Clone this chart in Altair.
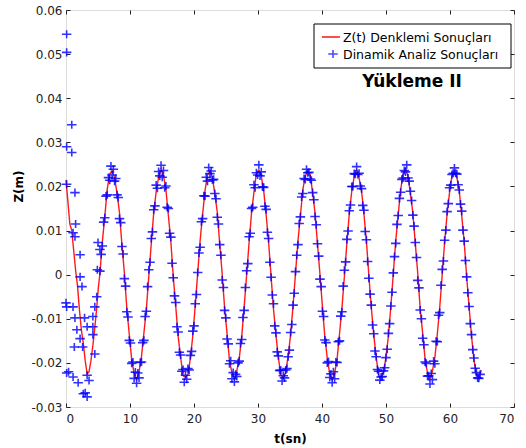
import altair as alt
import pandas as pd

# ---------------- data (values in mm, converted to m below) ----------------
period = 7.64          # s, steady oscillation period
t_start = 5.3          # s, first upward zero crossing of the steady part

x_ticks = [0, 10, 20, 30, 40, 50, 60, 70]
y_ticks = [-0.03, -0.02, -0.01, 0.0, 0.01, 0.02, 0.03, 0.04, 0.05, 0.06]

series_names = ["Z(t) Denklemi Sonuçları", "Dinamik Analiz Sonuçları"]
load_case = "Yükleme II"

# Z(t) equation curve: early transient
red_t_early = [0.0, 0.3, 0.6, 0.9, 1.2, 1.5, 1.8, 2.1, 2.4, 2.7, 3.0, 3.3,
               3.6, 3.9, 4.2, 4.5, 4.8, 5.05]
red_z_early_mm = [21.5, 16.5, 11.5, 10.0, 5.5, 1.0, -2.5, -8.0, -12.5, -15.5,
                  -19.5, -22.5, -22.0, -19.5, -16.0, -12.0, -7.5, -3.0]

# Z(t) equation curve: steady part, 20 samples per period
red_z_mm = [
    0.2, 7.5, 13.2, 19.4, 22.8, 23.6, 21.9, 18.5, 14.1, 6.8, 0.4, -7.6, -13.5, -19.3, -22.4, -23.8, -22.0, -18.6, -13.2, -7.8,
    -0.3, 7.0, 14.0, 18.8, 22.1, 23.9, 22.5, 19.2, 13.4, 7.6, -0.5, -7.1, -14.0, -18.6, -22.9, -23.2, -22.6, -19.0, -13.8, -6.9,
    0.4, 7.8, 13.6, 19.1, 22.6, 23.4, 22.0, 18.3, 14.2, 7.0, 0.2, -7.5, -13.3, -19.5, -22.2, -23.7, -21.8, -18.9, -14.1, -7.3,
    -0.2, 7.2, 13.9, 18.7, 23.0, 23.8, 22.3, 19.0, 13.5, 7.4, -0.3, -7.8, -13.7, -18.8, -22.7, -23.4, -22.1, -18.4, -13.6, -7.0,
    0.3, 7.6, 13.3, 19.3, 22.4, 23.5, 22.7, 18.6, 13.9, 6.9, 0.1, -7.2, -14.1, -19.0, -22.5, -23.9, -22.4, -19.2, -13.4, -7.6,
    -0.4, 7.1, 13.8, 18.9, 22.2, 23.7, 21.9, 19.1, 13.7, 7.7, -0.2, -7.4, -13.6, -18.7, -22.8, -23.3, -22.2, -18.7, -13.9, -7.1,
    0.2, 7.7, 13.5, 19.2, 22.9, 24.1, 22.4, 18.4, 14.0, 7.1, 0.3, -7.7, -13.2, -19.1, -22.3, -23.6, -21.9, -18.8, -13.5, -7.4,
    -0.1, 7.4, 13.7, 18.6, 22.5, 23.4, 22.1, 18.9, 13.3, 7.5, -0.4, -7.3, -13.9, -19.4, -22.6, -23.5, -21.6,
]

# Dynamic analysis results: early transient (scattered)
blue_t_early = [0.1, 0.1, 0.9, 0.1, 0.9, 0.1, 1.4, 1.1, 1.4, 1.5, 2.2, 2.2,
                2.5, 0.0, 0.1, 1.1, 1.4, 2.9, 3.3, 4.8, 4.5, 4.2, 4.2, 4.2,
                2.2, 2.6, 1.3, 4.5, 0.1, 1.1, 1.9, 3.3, 3.6, 2.7, 3.3, 3.0,
                5.0, 4.9, 5.3, 0.4, 1.7]
blue_z_early_mm = [54.5, 50.4, 34.0, 29.0, 27.7, 20.5, 18.6, 9.5, 8.6, 11.5, 4.5, -0.5,
                   -2.7, -6.4, -7.3, -7.3, -9.8, -9.8, -11.8, -5.0, -7.3, -9.5, -11.8, -13.6,
                   -14.5, -16.4, -16.4, -18.0, -22.3, -23.2, -24.5, -22.8, -24.0, -27.0, -27.7, -26.8,
                   7.3, 1.1, 5.7, -22.0, -12.5]

# Dynamic analysis results: steady part, 40 samples per period
blue_z_mm = [
    0.8, 4.6, 6.5, 11.9, 12.9, 17.8, 18.1, 22.0, 21.4, 24.6, 22.6, 23.9, 21.2, 21.8, 18.1, 17.5, 12.7, 11.8, 6.4, 4.7,
    -0.9, -2.6, -8.4, -9.6, -14.9, -15.5, -20.1, -19.8, -23.5, -22.1, -24.6, -22.3, -23.4, -19.9, -19.8, -15.4, -14.9, -9.5, -8.3, -2.7,
    1.1, 2.8, 8.2, 9.7, 14.7, 15.6, 20.3, 19.6, 23.4, 22.4, 24.8, 22.1, 23.6, 19.7, 20.1, 15.3, 15.0, 9.4, 8.5, 2.6,
    -0.7, -4.8, -6.3, -11.8, -13.0, -17.6, -18.2, -21.9, -21.5, -24.4, -22.8, -23.7, -21.3, -21.6, -18.3, -17.4, -12.8, -11.6, -6.6, -4.5,
    0.5, 4.9, 6.2, 12.0, 12.7, 17.9, 17.8, 22.1, 21.2, 24.3, 22.9, 23.5, 21.5, 21.6, 18.4, 17.2, 13.0, 11.5, 6.8, 4.4,
    -1.2, -2.9, -8.1, -9.8, -14.6, -15.7, -20.2, -19.5, -23.6, -22.2, -24.3, -22.6, -23.1, -20.0, -19.6, -15.6, -14.7, -9.7, -8.1, -2.9,
    0.9, 2.5, 8.6, 9.4, 15.0, 15.3, 20.4, 19.7, 23.1, 22.6, 24.9, 22.4, 23.3, 19.9, 19.8, 15.5, 14.8, 9.6, 8.2, 2.8,
    -0.6, -4.6, -6.6, -11.6, -13.2, -17.5, -18.4, -21.7, -21.7, -24.1, -22.9, -23.4, -21.6, -21.3, -18.6, -17.1, -13.1, -11.3, -6.9, -4.2,
    0.7, 4.4, 6.8, 11.6, 13.1, 17.6, 18.4, 21.8, 21.6, 23.9, 23.1, 23.2, 21.7, 21.4, 18.6, 17.0, 13.2, 11.3, 7.0, 4.2,
    -1.0, -2.7, -8.3, -9.5, -14.8, -15.4, -20.0, -19.7, -23.3, -22.5, -24.5, -22.0, -23.6, -19.8, -19.9, -15.2, -15.0, -9.4, -8.4, -2.6,
    1.0, 2.9, 8.0, 9.9, 14.5, 15.8, 20.0, 20.0, 22.9, 22.8, 24.5, 22.7, 23.0, 20.1, 19.5, 15.7, 14.6, 9.8, 7.9, 3.0,
    -0.8, -4.4, -6.9, -11.4, -13.4, -17.3, -18.6, -21.5, -21.9, -23.9, -23.2, -23.1, -21.8, -21.1, -18.8, -16.9, -13.3, -11.1, -7.1, -4.0,
    0.4, 4.1, 7.1, 11.4, 13.4, 17.3, 18.7, 21.6, 21.9, 23.6, 23.3, 24.9, 21.9, 21.2, 18.9, 16.8, 13.5, 11.0, 7.3, 3.9,
    -1.3, -3.0, -8.0, -10.0, -14.4, -15.9, -19.8, -20.1, -23.0, -22.9, -24.8, -22.4, -23.8, -19.6, -20.2, -15.1, -15.2, -9.2, -8.6, -2.4,
    1.2, 3.1, 7.8, 10.1, 14.3, 16.1, 19.7, 20.3, 22.7, 23.0, 24.2, 23.0, 22.8, 20.4, 19.2, 16.0, 14.4, 10.1, 7.6, 3.2,
    -0.5, -4.1, -7.2, -11.1, -13.6, -17.0, -18.9, -21.2, -22.2, -23.4, -23.5, -22.6,
]

# ---------------- tables ----------------
red_t = red_t_early + [round(t_start + i * period / 20, 3) for i in range(len(red_z_mm))]
red_z = [v / 1000 for v in red_z_early_mm + red_z_mm]
blue_t = blue_t_early + [round(t_start + i * period / 40, 3) for i in range(len(blue_z_mm))]
blue_z = [v / 1000 for v in blue_z_early_mm + blue_z_mm]

red_df = pd.DataFrame({"t": red_t, "z": red_z})
blue_df = pd.DataFrame({"t": blue_t, "z": blue_z})
one = pd.DataFrame({"a": [0]})

# ---------------- styling ----------------
FONT = "DejaVu Sans"
INK = "#222222"
RED = "#ff0000"
BLUE = "#0000ff"
PLUS = "M-1,0L1,0M0,-0.85L0,0.85"

x_scale = alt.Scale(domain=[0, 70], nice=False, zero=False)
y_scale = alt.Scale(domain=[-0.03, 0.06], nice=False, zero=False)

y_label_expr = "datum.value == 0 ? '0' : toString(round(datum.value * 100) / 100)"

axis_common = dict(offset=-4, tickSize=4, domain=False, grid=False,
                   tickColor=INK, tickWidth=1)

x_bottom = alt.Axis(values=x_ticks, orient="bottom", labelPadding=6,
                    labelFont=FONT, labelFontSize=12, labelColor=INK,
                    title="t(sn)", titleFont=FONT, titleFontSize=12,
                    titleFontWeight="bold", titleColor="#000", titlePadding=9,
                    **axis_common)
x_top = alt.Axis(values=x_ticks, orient="top", labels=False, title=None, **axis_common)
y_left = alt.Axis(values=y_ticks, orient="left", labelPadding=4, labelExpr=y_label_expr,
                  labelFont=FONT, labelFontSize=12, labelColor=INK,
                  title="Z(m)", titleFont=FONT, titleFontSize=12,
                  titleFontWeight="bold", titleColor="#000", titlePadding=5,
                  titleY=176, **axis_common)
y_right = alt.Axis(values=y_ticks, orient="right", labels=False, title=None, **axis_common)

line = alt.Chart(red_df).mark_line(color=RED, strokeWidth=1.4, opacity=0.9).encode(
    x=alt.X("t:Q", scale=x_scale, axis=x_bottom),
    y=alt.Y("z:Q", scale=y_scale, axis=y_left),
    order=alt.Order("t:Q"),
)

points = alt.Chart(blue_df).mark_point(
    shape=PLUS, filled=False, size=90, strokeWidth=1.6, color=BLUE, opacity=0.8
).encode(
    x=alt.X("t:Q", scale=x_scale, axis=x_top),
    y=alt.Y("z:Q", scale=y_scale, axis=y_right),
)

# manual legend (MATLAB style box inside the axes)
box = alt.Chart(one).mark_rect(fill="white", stroke="#000", strokeWidth=1).encode(
    x=alt.value(248), x2=alt.value(445), y=alt.value(14), y2=alt.value(58)
)
leg_line = alt.Chart(one).mark_rule(color=RED, strokeWidth=1.4).encode(
    x=alt.value(256), x2=alt.value(274), y=alt.value(27)
)
leg_pt = alt.Chart(one).mark_point(
    shape=PLUS, filled=False, size=90, strokeWidth=1.6, color=BLUE
).encode(x=alt.value(267), y=alt.value(44))
leg_txt1 = alt.Chart(one).mark_text(
    text=series_names[0], align="left", baseline="middle",
    font=FONT, fontSize=12.5, color="#000"
).encode(x=alt.value(277), y=alt.value(28))
leg_txt2 = alt.Chart(one).mark_text(
    text=series_names[1], align="left", baseline="middle",
    font=FONT, fontSize=12.5, color="#000"
).encode(x=alt.value(277), y=alt.value(45))
case_txt = alt.Chart(one).mark_text(
    text=load_case, align="center", baseline="middle",
    font=FONT, fontSize=17, fontWeight="bold", color="#000"
).encode(x=alt.value(346), y=alt.value(72))

chart = alt.layer(
    line, points, box, leg_line, leg_pt, leg_txt1, leg_txt2, case_txt
).resolve_axis(
    x="independent", y="independent"
).properties(
    width=448, height=397,
    padding={"left": 66, "top": 10, "right": 12, "bottom": 41},
    autosize=alt.AutoSizeParams(type="none"),
).configure_view(
    stroke=INK, strokeWidth=1
).configure(background="white")

chart.save("out.html", embed_options={"renderer": "svg", "actions": False})
